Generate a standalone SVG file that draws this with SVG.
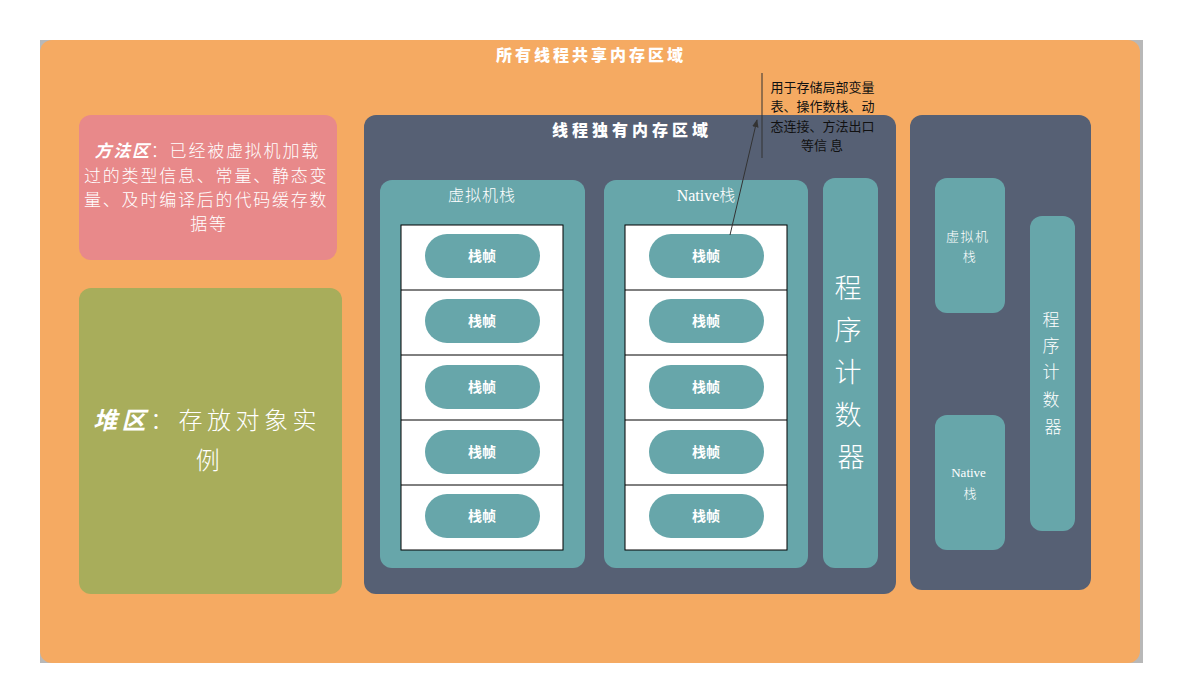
<svg xmlns="http://www.w3.org/2000/svg" width="1178" height="700" viewBox="0 0 1178 700">
<defs>
<style>
.cjk{font-family:"Noto Sans CJK SC","Noto Sans",sans-serif;fill:#fff}
.title{font-size:16px;font-weight:900;text-anchor:middle}
.pill{fill:#67A6AA}
.ptxt{font-size:14px;font-weight:700;text-anchor:middle}
.frame{fill:#fff;stroke:#000;stroke-width:1}
.stack{fill:#67A6AA}
.dark{fill:#566074}
.lbl{font-size:16px;text-anchor:middle;font-weight:300}
.note{font-family:"Noto Sans CJK SC",sans-serif;font-size:13px;fill:#111;text-anchor:middle}
</style>
<marker id="arr" viewBox="0 0 10 10" refX="9" refY="5" markerWidth="8" markerHeight="8" orient="auto">
<path d="M0,1 L10,5 L0,9 z" fill="#333"/>
</marker>
</defs>
<rect width="1178" height="700" fill="#fff"/>
<g id="shared">
<rect x="40" y="40" width="1103" height="623" fill="#B8B8B8"/>
<rect x="40" y="40" width="1100" height="623" rx="12" fill="#F5AA62"/>
<text class="cjk title" x="591" y="61" letter-spacing="3">所有线程共享内存区域</text>
</g>
<g id="method">
<rect x="79" y="115" width="258" height="145" rx="12" fill="#E8898A"/>
<text class="cjk" font-size="17" font-weight="300" text-anchor="middle" letter-spacing="1.8">
<tspan x="210" y="157"><tspan font-style="italic" font-weight="700">方法区</tspan>：已经被虚拟机加载</tspan>
<tspan x="209" y="182">过的类型信息、常量、静态变</tspan>
<tspan x="209" y="206">量、及时编译后的代码缓存数</tspan>
<tspan x="209" y="230">据等</tspan>
</text>
</g>
<g id="heap">
<rect x="79" y="288" width="263" height="306" rx="12" fill="#A8AD5B"/>
<text class="cjk" font-size="24" font-weight="300" text-anchor="middle" letter-spacing="4.5">
<tspan x="212" y="429"><tspan font-style="italic" font-weight="700">堆区</tspan>：存放对象实</tspan>
<tspan x="210" y="469">例</tspan>
</text>
</g>
<g id="private">
<rect class="dark" x="364" y="115" width="532" height="479" rx="12"/>
<text class="cjk title" x="632" y="136" letter-spacing="4">线程独有内存区域</text>
</g>
<g id="vmstack">
<rect class="stack" x="380" y="180" width="205" height="388" rx="12"/>
<text class="cjk lbl" x="482" y="201" letter-spacing="1">虚拟机栈</text>
<rect class="frame" x="401" y="225" width="162" height="325"/>
<path d="M401 290H563M401 355H563M401 420H563M401 485H563" stroke="#000" fill="none"/>
<rect class="pill" x="425" y="234" width="115" height="44" rx="22"/>
<rect class="pill" x="425" y="299" width="115" height="44" rx="22"/>
<rect class="pill" x="425" y="365" width="115" height="44" rx="22"/>
<rect class="pill" x="425" y="430" width="115" height="44" rx="22"/>
<rect class="pill" x="425" y="494" width="115" height="44" rx="22"/>
<text class="cjk ptxt" x="482" y="261">栈帧</text>
<text class="cjk ptxt" x="482" y="326">栈帧</text>
<text class="cjk ptxt" x="482" y="392">栈帧</text>
<text class="cjk ptxt" x="482" y="457">栈帧</text>
<text class="cjk ptxt" x="482" y="521">栈帧</text>
</g>
<g id="nativestack">
<rect class="stack" x="604" y="180" width="204" height="388" rx="12"/>
<text class="cjk lbl" x="706" y="201"><tspan font-family="Liberation Serif,serif">Native</tspan>栈</text>
<rect class="frame" x="625" y="225" width="162" height="325"/>
<path d="M625 290H787M625 355H787M625 420H787M625 485H787" stroke="#000" fill="none"/>
<rect class="pill" x="649" y="234" width="115" height="44" rx="22"/>
<rect class="pill" x="649" y="299" width="115" height="44" rx="22"/>
<rect class="pill" x="649" y="365" width="115" height="44" rx="22"/>
<rect class="pill" x="649" y="430" width="115" height="44" rx="22"/>
<rect class="pill" x="649" y="494" width="115" height="44" rx="22"/>
<text class="cjk ptxt" x="706" y="261">栈帧</text>
<text class="cjk ptxt" x="706" y="326">栈帧</text>
<text class="cjk ptxt" x="706" y="392">栈帧</text>
<text class="cjk ptxt" x="706" y="457">栈帧</text>
<text class="cjk ptxt" x="706" y="521">栈帧</text>
</g>
<g id="pc">
<rect class="stack" x="823" y="178" width="55" height="390" rx="12"/>
<text class="cjk" font-size="27" font-weight="300" text-anchor="middle">
<tspan x="851" y="298">程</tspan>
<tspan x="851" y="340">序</tspan>
<tspan x="851" y="382">计</tspan>
<tspan x="851" y="425">数</tspan>
<tspan x="851" y="467">器</tspan>
</text>
</g>
<g id="private2">
<rect class="dark" x="910" y="115" width="181" height="475" rx="12"/>
</g>
<g id="vmstack2">
<rect class="stack" x="935" y="178" width="70" height="135" rx="12"/>
<text class="cjk" font-size="13" font-weight="300" text-anchor="middle" letter-spacing="1.5">
<tspan x="970" y="241">虚拟机</tspan>
<tspan x="970" y="261">栈</tspan>
</text>
</g>
<g id="nativestack2">
<rect class="stack" x="935" y="415" width="70" height="135" rx="12"/>
<text class="cjk" font-size="13" font-weight="300" text-anchor="middle">
<tspan x="970" y="477" font-family="Liberation Serif,serif">Native</tspan>
<tspan x="970" y="498">栈</tspan>
</text>
</g>
<g id="pc2">
<rect class="stack" x="1030" y="216" width="45" height="315" rx="12"/>
<text class="cjk" font-size="17" font-weight="300" text-anchor="middle">
<tspan x="1053" y="326">程</tspan>
<tspan x="1053" y="352">序</tspan>
<tspan x="1053" y="378">计</tspan>
<tspan x="1053" y="406">数</tspan>
<tspan x="1053" y="433">器</tspan>
</text>
</g>
<g id="callout">
<path d="M762 73V158" stroke="#333" stroke-width="1" fill="none"/>
<text class="note">
<tspan x="824" y="92">用于存储局部变量</tspan>
<tspan x="824" y="111">表、操作数栈、动</tspan>
<tspan x="824" y="131">态连接、方法出口</tspan>
<tspan x="822" y="150">等信 息</tspan>
</text>
</g>
<g id="connectors">
<path d="M730 235L757 120" stroke="#333" stroke-width="1" fill="none" marker-end="url(#arr)"/>
</g>
</svg>
